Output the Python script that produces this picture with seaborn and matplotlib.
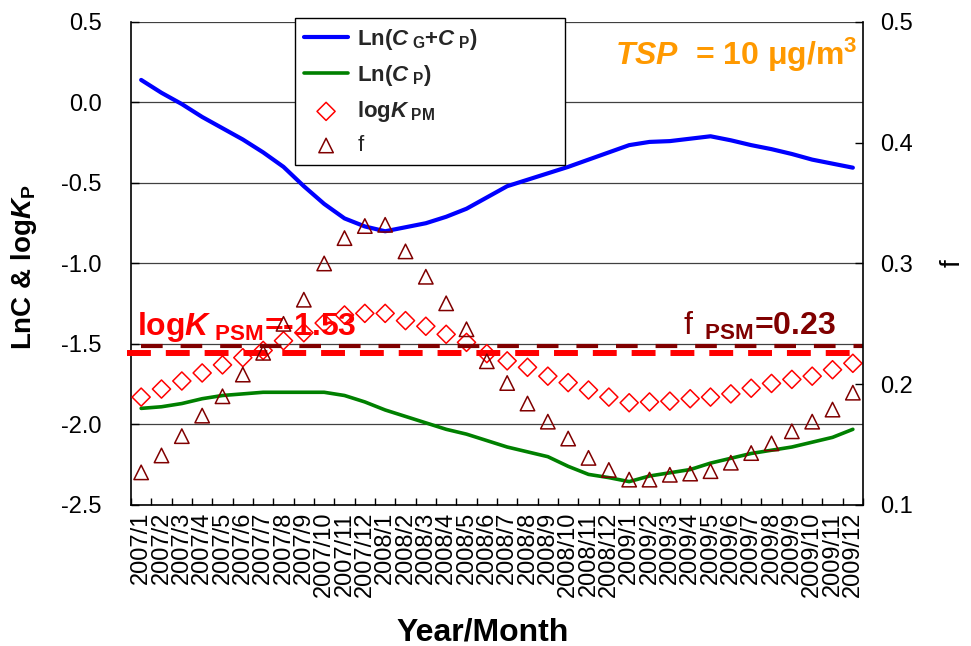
import matplotlib
matplotlib.use('Agg')
import matplotlib.pyplot as plt
import seaborn as sns
import numpy as np

# categories (x axis)
months = ['2007/1', '2007/2', '2007/3', '2007/4', '2007/5', '2007/6',
          '2007/7', '2007/8', '2007/9', '2007/10', '2007/11', '2007/12',
          '2008/1', '2008/2', '2008/3', '2008/4', '2008/5', '2008/6',
          '2008/7', '2008/8', '2008/9', '2008/10', '2008/11', '2008/12',
          '2009/1', '2009/2', '2009/3', '2009/4', '2009/5', '2009/6',
          '2009/7', '2009/8', '2009/9', '2009/10', '2009/11', '2009/12']

# left axis series
ln_total = [0.14, 0.06, -0.01, -0.09, -0.16, -0.23, -0.31, -0.40, -0.52, -0.63,
            -0.72, -0.77, -0.80, -0.775, -0.75, -0.71, -0.66, -0.59, -0.52, -0.48,
            -0.44, -0.40, -0.355, -0.31, -0.265, -0.245, -0.24, -0.225, -0.21, -0.235,
            -0.265, -0.29, -0.32, -0.355, -0.38, -0.405]
ln_part = [-1.90, -1.89, -1.87, -1.84, -1.82, -1.81, -1.80, -1.80, -1.80, -1.80,
           -1.82, -1.86, -1.91, -1.95, -1.99, -2.03, -2.06, -2.10, -2.14, -2.17,
           -2.20, -2.26, -2.31, -2.33, -2.355, -2.32, -2.30, -2.28, -2.24, -2.21,
           -2.18, -2.16, -2.14, -2.11, -2.08, -2.03]
log_kpm = [-1.83, -1.78, -1.73, -1.68, -1.63, -1.585, -1.54, -1.48, -1.43, -1.37,
           -1.32, -1.31, -1.31, -1.355, -1.39, -1.44, -1.49, -1.56, -1.605, -1.645,
           -1.70, -1.74, -1.786, -1.83, -1.865, -1.86, -1.855, -1.84, -1.83, -1.81,
           -1.775, -1.745, -1.72, -1.70, -1.66, -1.62]
# right axis series
f_frac = [0.127, 0.141, 0.157, 0.174, 0.190, 0.208, 0.226, 0.250, 0.270, 0.300,
          0.321, 0.331, 0.332, 0.310, 0.289, 0.267, 0.2455, 0.219, 0.201, 0.184,
          0.169, 0.155, 0.139, 0.129, 0.121, 0.121, 0.125, 0.126, 0.128, 0.135,
          0.143, 0.151, 0.161, 0.169, 0.179, 0.193]

logk_psm = -1.555   # where the red dashed line sits
f_psm = 0.232       # where the dark red dashed line sits

left_ticks = [-2.5, -2.0, -1.5, -1.0, -0.5, 0.0, 0.5]
right_ticks = [0.1, 0.2, 0.3, 0.4, 0.5]

sns.set_theme(style='white')
plt.rcParams['font.family'] = ['Liberation Sans', 'DejaVu Sans']
plt.rcParams['axes.unicode_minus'] = False
plt.rcParams['mathtext.fontset'] = 'custom'
plt.rcParams['mathtext.rm'] = 'Liberation Sans'
plt.rcParams['mathtext.it'] = 'Liberation Sans:italic'
plt.rcParams['mathtext.bf'] = 'Liberation Sans:bold'
plt.rcParams['mathtext.bfit'] = 'Liberation Sans:italic:bold'

fig = plt.figure(figsize=(9.71, 6.46), dpi=100)
ax = fig.add_axes([0.1349, 0.2183, 0.7539, 0.7477])
ax2 = ax.twinx()

x = np.arange(len(months))

sns.lineplot(x=x, y=ln_total, ax=ax, color='#0000FF', lw=3,
             label=r'Ln($\mathbfit{C}_{\ \mathbf{G}}$+$\mathbfit{C}_{\ \mathbf{P}}$)', legend=False)
sns.lineplot(x=x, y=ln_part, ax=ax, color='#008000', lw=2.6,
             label=r'Ln($\mathbfit{C}_{\ \mathbf{P}}$)', legend=False)
sns.scatterplot(x=x, y=log_kpm, ax=ax, marker='D', s=85, color='none',
                edgecolor='#FF0000', linewidth=1.1, zorder=3,
                label=r'log$\mathbfit{K}_{\ \mathbf{PM}}$', legend=False)
sns.scatterplot(x=x, y=f_frac, ax=ax2, marker='^', s=108, color='none',
                edgecolor='#800000', linewidth=1.1, zorder=3, label='f', legend=False)

# PSM reference lines
ax.axhline(logk_psm, xmin=-0.006, xmax=1.0, color='#FF0000', lw=4.3,
           linestyle=(0, (4.0, 2.5)), clip_on=False, zorder=4)
ax2.axhline(f_psm, xmin=0.014, xmax=1.0, color='#800000', lw=3.0,
            linestyle=(0, (5.2, 4.3)), zorder=2)

# axes ranges and ticks
ax.set_xlim(-0.5, len(months) - 0.5)
ax.set_xticks(x)
ax.set_xticklabels(months, rotation=90, fontsize=17, color='black')
ax.set_xticks(np.arange(-0.5, len(months), 1), minor=True)
ax.tick_params(axis='x', which='major', length=0, pad=5)
ax.tick_params(axis='x', which='minor', direction='in', length=5, width=1, color='black', bottom=True)

ax.set_ylim(-2.5, 0.5)
ax.set_yticks(left_ticks)
ax.set_yticklabels([f'{v:.1f}' for v in left_ticks], fontsize=17, color='black')
ax.tick_params(axis='y', direction='in', length=6, width=1, color='black', pad=21, left=True)

ax2.set_ylim(0.1, 0.5)
ax2.set_yticks(right_ticks)
ax2.set_yticklabels([f'{v:.1f}' for v in right_ticks], fontsize=17, color='black')
ax2.tick_params(axis='y', direction='in', length=6, width=1, color='black', pad=12, right=True)

ax.grid(axis='y', color='#404040', lw=0.9)
ax2.grid(False)
ax.set_axisbelow(True)

for s in ['top', 'right']:
    ax.spines[s].set_visible(False)
for s in ['left', 'bottom']:
    ax.spines[s].set_color('black')
    ax.spines[s].set_linewidth(1.2)
for s in ['left', 'top', 'bottom']:
    ax2.spines[s].set_visible(False)
ax2.spines['right'].set_color('black')
ax2.spines['right'].set_linewidth(1.2)

# axis titles
ax.set_xlabel('Year/Month', fontsize=23, fontweight='bold', color='black')
ax.xaxis.set_label_coords(0.48, -0.232)
ax.set_ylabel(r'LnC & log$\mathbfit{K}_{\mathbf{P}}$', fontsize=20, fontweight='bold', color='black')
ax.yaxis.set_label_coords(-0.126, 0.493)
ax2.set_ylabel('f', fontsize=20, color='black', rotation=90)
ax2.yaxis.set_label_coords(1.105, 0.5)

# annotations
ax.text(0.008, 0.352, r'log$\mathbfit{K}_{\ \mathbf{PSM}}$=-1.53', transform=ax.transAxes,
        fontsize=23, fontweight='bold', color='#FF0000', ha='left', va='baseline', zorder=5)
ax2.text(0.963, 0.352, r'$\mathrm{f}_{\ \ \mathbf{PSM}}$=0.23', transform=ax2.transAxes,
         fontsize=23, fontweight='bold', color='#800000', ha='right', va='baseline', zorder=5)
ax2.text(0.992, 0.911, r'$\mathbfit{TSP}$  = 10 μg/m$^{\mathbf{3}}$', transform=ax2.transAxes,
         fontsize=23, fontweight='bold', color='#FF9900', ha='right', va='baseline')

# combined legend
h1, l1 = ax.get_legend_handles_labels()
h2, l2 = ax2.get_legend_handles_labels()
leg = ax2.legend(h1 + h2, l1 + l2, loc='upper left',
                 bbox_to_anchor=(0.224, 0.712, 0.369, 0.296), mode='expand',
                 prop={'size': 16, 'weight': 'bold'}, frameon=True, fancybox=False,
                 framealpha=1, edgecolor='black', handlelength=2.0, handletextpad=0.4,
                 labelspacing=0.5, borderpad=0.4, borderaxespad=0, scatterpoints=1)
leg.get_frame().set_linewidth(1.0)
leg.get_texts()[3].set_fontweight('normal')

fig.savefig('out.png', dpi=100)
